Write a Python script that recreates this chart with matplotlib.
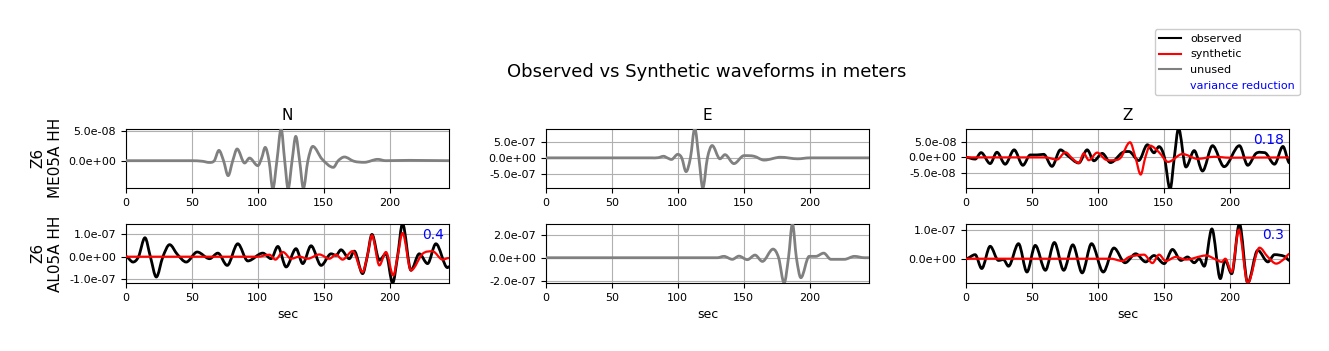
import numpy as np
import matplotlib
matplotlib.use("Agg")
import matplotlib.pyplot as plt
from matplotlib.path import Path
from matplotlib.patches import PathPatch
from matplotlib.lines import Line2D
from matplotlib.ticker import FormatStrFormatter, MultipleLocator

# ---------------- data ----------------
components = ["N", "E", "Z"]
stations = ["Z6\nME05A HH", "Z6\nAL05A HH"]
var_red = {(0, 2): "0.18", (1, 0): "0.4", (1, 2): "0.3"}

# Row 1, N  (unused, units 1e-8 m)
me_n_t = [0, 50, 58, 63, 67, 70.5, 74, 77.5, 81, 84.3, 90, 93.7, 100, 103, 105.6, 108.5,
          111.4, 114.5, 117.7, 120.4, 123, 126, 128.8, 131.7, 134.6, 138, 141.7, 148.7,
          157.3, 161, 165.7, 173, 180.8, 191, 197, 215, 245]
me_n_v = np.array([0, 0, -0.1, -0.3, 0, 1.76, 0, -2.56, 0, 2.0, -0.4, 0.45, -0.85, 0.5, 2.27, 0,
                   -4.8, 0, 5.45, 0, -4.8, 0, 4.15, 0, -4.7, 0, 2.44, 0.28,
                   -1.14, 0, 0.63, -0.1, -0.28, 0.23, 0, 0.06, 0]) * 1e-8

# Row 1, E  (unused, units 1e-7 m)
me_e_t = [0, 80, 85, 89.3, 92, 95.2, 100, 103, 106.3, 109.6, 112.9, 116, 119, 122.5, 126.1,
          132, 135.8, 142.6, 150.3, 157.9, 165.5, 178, 191, 200, 245]
me_e_v = np.array([0, 0, 0.05, 0.5, 0, -0.5, 1.1, 0, -4.3, 0, 9.2, 0, -9.4, 0, 3.85,
                   -0.3, 1.0, -1.8, 0.7, 0.5, -0.7, 0.2, -0.3, 0, 0]) * 1e-7

# Row 1, Z observed (units 1e-8 m)
me_z_obs_t = [0, 6.9, 11.4, 18.3, 23.4, 29.7, 36.5, 43.1, 48.7, 53.8, 58.9, 65.2, 71.6, 77.2,
              85.5, 91.9, 97, 103.3, 109.6, 118.5, 123.6, 131, 137.6, 142.6, 146.4, 150.5,
              154.8, 158, 161.2, 166.8, 173.1, 179.4, 187, 195.8, 207.4, 213.7, 220, 226.4,
              234, 240.4, 245.4]
me_z_obs_v = np.array([0, -0.55, 1.55, -2.0, 1.67, -2.2, 2.45, -2.55, 0.8, 0.8, 1.0, -2.9, 2.45,
                       0.55, -1.8, 2.45, -1.1, 1.3, -1.67, 1.55, 1.9, -1.0, 4.1, 1.5, 3.5, 0,
                       -10.3, 0, 9.4, -3.1, 2.2, -4.4, 3.8, -3.0, 3.8, -2.55, 1.3, 1.55,
                       -2.2, 3.55, -1.8]) * 1e-8
# Row 1, Z synthetic (units 1e-8 m)
me_z_syn_t = [0, 60, 69, 75.4, 80.5, 85.5, 89.3, 93.1, 99.5, 105.8, 112.2, 117.3, 124.4, 128.5,
              132.5, 136, 139.6, 146.4, 153.3, 164.2, 175.6, 188.3, 200, 245]
me_z_syn_v = np.array([0, 0, -0.7, 1.65, -0.3, -1.8, 1.3, -0.9, 1.55, -0.7, -0.9, -0.1, 4.9, 0,
                       -5.55, 0, 3.8, 1.65, -1.45, 1.1, -0.45, 0.2, -0.1, 0]) * 1e-8

# Row 2, N observed (units 1e-7 m)
al_n_obs_t = [0, 5.3, 9.5, 14.4, 18.5, 23, 28, 33.1, 39, 45.7, 54, 63.4, 69.7, 76.8, 84.8, 92.4,
              103.8, 110.1, 115.2, 121.5, 129, 134.1, 140.4, 148, 155.6, 159.3, 163.1, 169.4,
              173.2, 179.5, 183, 186.6, 192.2, 197.2, 202.3, 206, 209.8, 216.2, 222.5, 228.8,
              235.1, 243.9, 245]
al_n_obs_v = np.array([0, -0.24, 0, 0.85, 0, -0.91, 0, 0.54, 0.1, -0.24, 0.21, -0.09, 0.16, -0.39,
                       0.58, -0.19, 0.16, -0.09, 0.46, -0.46, 0.36, -0.31, 0.49, -0.39, 0.13,
                       0.06, 0.31, -0.09, 0.25, -0.76, 0, 1.0, -0.16, 0.13, -1.18, 0, 1.48,
                       -0.61, 0.13, -0.31, 0.58, -0.49, -0.45]) * 1e-7
# Row 2, N synthetic (units 1e-7 m)
al_n_syn_t = [0, 100, 108.8, 113.4, 119, 125.3, 131.6, 137.9, 146.7, 154.3, 159.3, 164.3, 171.9,
              179.5, 183, 186.6, 192.2, 197.2, 202.8, 206, 209.8, 216.2, 225, 232.6, 240.2, 245]
al_n_syn_v = np.array([0, 0, 0.09, -0.13, 0.21, -0.09, 0, -0.09, 0.1, -0.09, 0.09, -0.13, 0.25,
                       -0.69, 0, 0.96, -0.39, 0.21, -0.84, 0, 1.06, -0.61, 0.13, 0.24, -0.13,
                       -0.06]) * 1e-7

# Row 2, E (unused, units 1e-7 m)
al_e_t = [0, 130, 135, 141.4, 146.4, 152.8, 158.6, 164.2, 172.3, 176.5, 180.7, 184, 187, 190,
          193.4, 199.7, 204.8, 210.7, 216.2, 226.4, 234, 241.6, 245]
al_e_v = np.array([0, 0, 0.12, -0.14, 0.14, -0.17, 0.23, -0.32, 0.75, 0, -2.2, 0, 2.96, 0,
                   -1.74, 0.12, 0.12, 0.4, -0.14, -0.14, 0.12, 0, 0]) * 1e-7

# Row 2, Z observed (units 1e-7 m)
al_z_obs_t = [0, 6.9, 11.9, 18.3, 24.6, 28.4, 32.2, 39.8, 46.2, 52.5, 60.2, 67, 74.1, 81, 88.1,
              95.2, 104.1, 112.2, 120.6, 128.7, 136.3, 142.6, 150.3, 156.6, 163, 168, 173.1,
              176.9, 180.7, 186.5, 192.9, 196.5, 201.5, 207.4, 213.7, 221.3, 229, 234, 241.6,
              245.4]
al_z_obs_v = np.array([0, 0.14, -0.34, 0.43, -0.06, -0.03, -0.26, 0.52, -0.46, 0.46, -0.4, 0.56,
                       -0.4, 0.48, -0.49, 0.52, -0.46, 0.37, -0.14, 0.17, -0.11, 0.11, -0.17,
                       0.32, -0.06, 0.06, -0.14, 0, -0.26, 1.03, -0.69, -0.05, -0.52, 1.21,
                       -0.84, 0.29, -0.11, 0.14, 0.08, -0.06]) * 1e-7
# Row 2, Z synthetic (units 1e-7 m)
al_z_syn_t = [0, 110, 118.5, 123.6, 128.7, 135, 141.4, 146.4, 151.5, 159.1, 166.8, 182, 189.6,
              194, 196.7, 201.5, 206.9, 213.7, 222.6, 229, 235.3, 241.6, 245.4]
al_z_syn_v = np.array([0, 0, -0.08, 0.06, 0.11, 0.14, -0.15, 0.14, -0.08, 0.06, -0.03, 0.11,
                       -0.03, -0.11, 0, -0.46, 1.0, -0.84, 0.38, 0.06, -0.17, 0, 0.17]) * 1e-7

# y-limits per panel
ylims = {(0, 0): (-4.66e-8, 5.46e-8), (0, 1): (-9.4e-7, 9.1e-7), (0, 2): (-9.9e-8, 9.3e-8),
         (1, 0): (-1.18e-7, 1.48e-7), (1, 1): (-2.2e-7, 2.96e-7), (1, 2): (-0.84e-7, 1.21e-7)}
ysteps = {(0, 0): 5e-8, (0, 1): 5e-7, (0, 2): 5e-8,
          (1, 0): 1e-7, (1, 1): 2e-7, (1, 2): 1e-7}

# (row, col) -> list of (t, v, kind)
traces = {
    (0, 0): [(me_n_t, me_n_v, "unused")],
    (0, 1): [(me_e_t, me_e_v, "unused")],
    (0, 2): [(me_z_obs_t, me_z_obs_v, "observed"), (me_z_syn_t, me_z_syn_v, "synthetic")],
    (1, 0): [(al_n_obs_t, al_n_obs_v, "observed"), (al_n_syn_t, al_n_syn_v, "synthetic")],
    (1, 1): [(al_e_t, al_e_v, "unused")],
    (1, 2): [(al_z_obs_t, al_z_obs_v, "observed"), (al_z_syn_t, al_z_syn_v, "synthetic")],
}
styles = {"observed": dict(color="black", lw=2.0, z=3),
          "synthetic": dict(color="red", lw=1.6, z=4),
          "unused": dict(color="gray", lw=2.0, z=3)}


def smooth_path(ax, t, v, color, lw, z):
    """Draw a smooth curve passing through the read points (cubic Bezier segments)."""
    t = np.asarray(t, float)
    v = np.asarray(v, float)
    n = len(t)
    m = np.zeros(n)
    for i in range(1, n - 1):
        a = v[i] - v[i - 1]
        b = v[i + 1] - v[i]
        if a * b <= 0:
            m[i] = 0.0
        else:
            m[i] = (v[i + 1] - v[i - 1]) / (t[i + 1] - t[i - 1])
    verts = [(t[0], v[0])]
    codes = [Path.MOVETO]
    for i in range(n - 1):
        dt = t[i + 1] - t[i]
        verts += [(t[i] + dt / 3, v[i] + m[i] * dt / 3),
                  (t[i + 1] - dt / 3, v[i + 1] - m[i + 1] * dt / 3),
                  (t[i + 1], v[i + 1])]
        codes += [Path.CURVE4] * 3
    patch = PathPatch(Path(verts, codes), facecolor="none", edgecolor=color, lw=lw,
                      zorder=z, capstyle="round", joinstyle="round")
    ax.add_patch(patch)


fig = plt.figure(figsize=(13.29, 3.51), dpi=100)
lefts = [0.0948, 0.4108, 0.7269]
bottoms = [0.4644, 0.1937]
width, height = 0.243, 0.169

axes = {}
for r in range(2):
    for c in range(3):
        ax = fig.add_axes([lefts[c], bottoms[r], width, height])
        axes[(r, c)] = ax
        for t, v, kind in traces[(r, c)]:
            st = styles[kind]
            smooth_path(ax, t, v, st["color"], st["lw"], st["z"])
        ax.set_xlim(0, 245)
        ax.set_ylim(*ylims[(r, c)])
        ax.xaxis.set_major_locator(MultipleLocator(50))
        ax.yaxis.set_major_locator(MultipleLocator(ysteps[(r, c)]))
        ax.yaxis.set_major_formatter(FormatStrFormatter("%.1e"))
        ax.tick_params(labelsize=8)
        ax.grid(True, color="#b0b0b0", lw=0.8)
        ax.set_axisbelow(True)
        if r == 0:
            ax.set_title(components[c], fontsize=11)
        else:
            ax.set_xlabel("sec", fontsize=9)
        if c == 0:
            ax.set_ylabel(stations[r], fontsize=11)
        if (r, c) in var_red:
            ax.text(0.985, 0.93, var_red[(r, c)], transform=ax.transAxes, ha="right",
                    va="top", color="blue", fontsize=10)

fig.suptitle("Observed vs Synthetic waveforms in meters", fontsize=13, x=0.532, y=0.82)

handles = [Line2D([], [], color="black", lw=1.5),
           Line2D([], [], color="red", lw=1.5),
           Line2D([], [], color="gray", lw=1.5),
           Line2D([], [], color="none")]
labels = ["observed", "synthetic", "unused", "variance reduction"]
leg = fig.legend(handles, labels, loc="upper right", bbox_to_anchor=(0.982, 0.932),
                 fontsize=8, handlelength=2, framealpha=1)
leg.get_texts()[3].set_color("blue")

fig.savefig("out.png", dpi=100)
